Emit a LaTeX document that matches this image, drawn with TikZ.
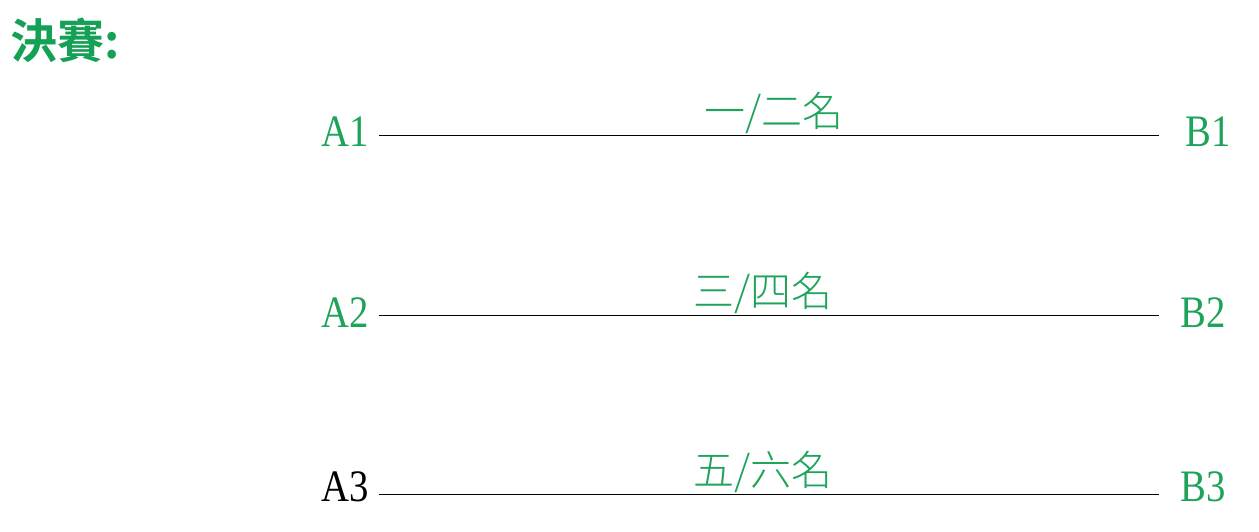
\documentclass[tikz,border=0pt]{standalone}
\usepackage{fontspec}
\setmainfont{Liberation Serif}
\newfontfamily\teamfont[FakeStretch=0.86]{Liberation Serif}
\newfontfamily\cjk[UprightFont=* Light,BoldFont=* Bold]{Noto Sans CJK TC}
\definecolor{rankgreen}{HTML}{1EA35A}
\definecolor{titlegreen}{HTML}{14A055}
\begin{document}
\begin{tikzpicture}[x=1pt,y=-1pt,
  team/.style={inner sep=0pt, font=\teamfont\fontsize{45}{45}\selectfont},
  rank/.style={inner sep=0pt, anchor=base, color=rankgreen, font=\cjk\fontsize{41}{41}\selectfont},
  match/.style={line width=1pt}]
  \useasboundingbox (0,0) rectangle (1259,532);
  \node[anchor=base west, inner sep=0pt, color=titlegreen, font=\cjk\bfseries\fontsize{47}{47}\selectfont] (title) at (10,59) {決賽:};
  % left teams
  \node[team, anchor=base east, color=rankgreen] (A1) at (369,147) {A1};
  \node[team, anchor=base east, color=rankgreen] (A2) at (369,327) {A2};
  \node[team, anchor=base east] (A3) at (369,501) {A3};
  % right teams
  \node[team, anchor=base west, color=rankgreen] (B1) at (1185,147) {B1};
  \node[team, anchor=base west, color=rankgreen] (B2) at (1180,327) {B2};
  \node[team, anchor=base west, color=rankgreen] (B3) at (1180,501) {B3};
  % lines
  \coordinate (L1) at (379,136);
  \coordinate (R1) at (1159,136);
  \coordinate (L2) at (379,315);
  \coordinate (R2) at (1159,315);
  \coordinate (L3) at (379,494);
  \coordinate (R3) at (1159,494);
  \draw[match] (L1) -- (R1);
  \draw[match] (L2) -- (R2);
  \draw[match] (L3) -- (R3);
  % ranks
  \node[rank] (M1) at (774,127) {一/二名};
  \node[rank] (M2) at (763,306) {三/四名};
  \node[rank] (M3) at (763,485) {五/六名};
\end{tikzpicture}
\end{document}
